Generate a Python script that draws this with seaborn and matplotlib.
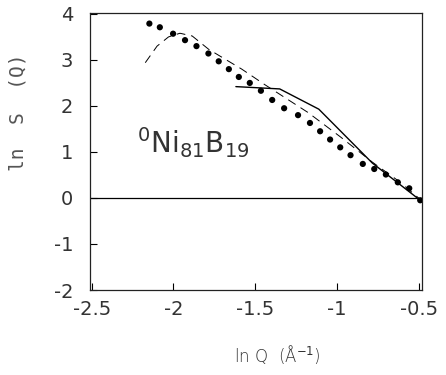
import numpy as np
import pandas as pd
import matplotlib
matplotlib.use("Agg")
import matplotlib.pyplot as plt
import seaborn as sns

# data
dot_x = [-2.147, -2.083, -2.002, -1.929, -1.859, -1.786, -1.723, -1.661, -1.600,
         -1.533, -1.465, -1.396, -1.323, -1.238, -1.165, -1.103, -1.042, -0.980,
         -0.917, -0.842, -0.772, -0.701, -0.628, -0.558, -0.491]
dot_y = [3.79, 3.71, 3.57, 3.43, 3.30, 3.14, 2.97, 2.80, 2.63,
         2.50, 2.33, 2.13, 1.95, 1.80, 1.63, 1.45, 1.27, 1.10,
         0.93, 0.74, 0.63, 0.51, 0.34, 0.21, -0.05]

solid_x = [-1.618, -1.35, -1.111, -0.784, -0.491]
solid_y = [2.42, 2.37, 1.93, 0.76, -0.05]

dash_x = [-2.172, -2.10, -2.03, -1.96, -1.885, -1.784, -1.582, -1.44, -1.178,
          -0.976, -0.784, -0.62, -0.491]
dash_y = [2.94, 3.30, 3.50, 3.58, 3.52, 3.23, 2.80, 2.46, 1.86,
          1.32, 0.78, 0.36, -0.03]

x_ticks = [-2.5, -2, -1.5, -1, -0.5]
x_labels = ["-2.5", "-2", "-1.5", "-1", "-0.5"]
y_ticks = [-2, -1, 0, 1, 2, 3, 4]
y_labels = ["-2", "-1", "0", "1", "2", "3", "4"]

sns.set_theme(style="ticks")
plt.rcParams["font.family"] = ["DejaVu Sans"]
txt = "#333333"

fig = plt.figure(figsize=(4.46, 3.75), dpi=100)
ax = fig.add_axes([90 / 446, 1 - 290 / 375, 332 / 446, 277 / 375])

dots = pd.DataFrame({"x": dot_x, "y": dot_y})
solid = pd.DataFrame({"x": solid_x, "y": solid_y})
dash = pd.DataFrame({"x": dash_x, "y": dash_y})

sns.scatterplot(data=dots, x="x", y="y", ax=ax, color="black", s=20,
                edgecolor="none", zorder=3)
sns.lineplot(data=solid, x="x", y="y", ax=ax, color="black", lw=1.0,
             sort=False, estimator=None)
sns.lineplot(data=dash, x="x", y="y", ax=ax, color="black", lw=0.7,
             sort=False, estimator=None)
ax.lines[-1].set_dashes([9, 6])
ax.axhline(0, color="black", lw=0.9)

ax.set_xlim(-2.51, -0.48)
ax.set_ylim(-2, 4.02)
ax.set_xticks(x_ticks)
ax.set_xticklabels(x_labels)
ax.set_yticks(y_ticks)
ax.set_yticklabels(y_labels)
ax.tick_params(direction="in", length=5, width=0.8, colors="black",
               labelcolor=txt, labelsize=14)
ax.tick_params(axis="y", pad=12)
ax.tick_params(axis="x", pad=7)
for sp in ax.spines.values():
    sp.set_visible(True)
    sp.set_linewidth(0.9)
    sp.set_color("#222222")

ax.set_xlabel("ln Q  (Å$^{-1}$)", fontsize=12, color=txt, fontweight="light")
ax.set_ylabel("ln  S  (Q)", fontsize=14, color="#555555",
              family="DejaVu Sans Mono")
ax.yaxis.set_label_coords(-0.187, 0.64)
ax.xaxis.set_label_coords(0.563, -0.19)

ax.text(-2.225, 1.2, r"$^{0}$Ni$_{81}$B$_{19}$", fontsize=20, color=txt,
        va="center", ha="left")

fig.savefig("out.png", dpi=100)
